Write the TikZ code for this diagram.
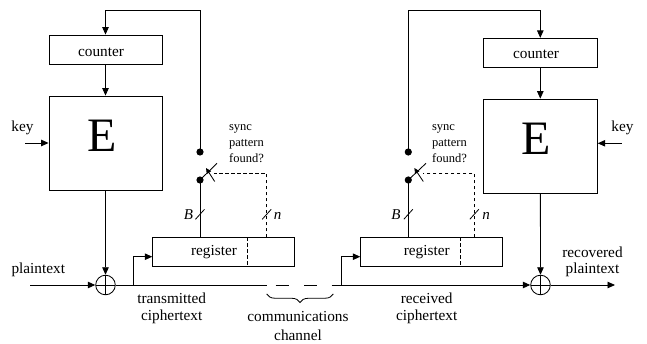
\documentclass[tikz,border=0pt]{standalone}
\usepackage{fontspec}
\setmainfont{Liberation Serif}
\usetikzlibrary{arrows.meta,decorations.pathreplacing,calc}
\begin{document}
\begin{tikzpicture}[x=1pt,y=-1pt,line width=0.85pt,
  >={Triangle[length=7.5pt,width=6.5pt]},
  box/.style={draw,inner sep=0pt},
  lbl/.style={inner sep=0pt,anchor=base,font=\fontsize{15.3}{18}\selectfont},
  big/.style={inner sep=0pt,anchor=base,font=\fontsize{48}{48}\selectfont},
  small/.style={inner sep=0pt,anchor=base west,font=\fontsize{12.5}{15}\selectfont},
  var/.style={inner sep=0pt,anchor=base,font=\fontsize{15}{18}\selectfont\itshape},
  dot/.style={circle,fill,inner sep=0pt,minimum size=7.2pt},
  xor/.style={circle,draw,inner sep=0pt,minimum size=19.6pt,
    path picture={\draw (path picture bounding box.north) -- (path picture bounding box.south)
      (path picture bounding box.west) -- (path picture bounding box.east);}},
  ctl/.style={dash pattern=on 3.5pt off 2.5pt},
  swarrow/.style={-{Triangle[length=5.5pt,width=5pt]}},
  busmark/.style={line width=0.8pt}
]
\useasboundingbox (0,0) rectangle (647,344);

% ---------------- transmitter ----------------
\node[box,minimum width=113pt,minimum height=29pt] (ctrL) at (105.5,49.5) {};
\node[lbl] (ctrLt) at (101,56.5) {counter};
\node[box,minimum width=113pt,minimum height=94pt] (EL) at (105.5,143) {};
\node[big] (ELt) at (102,152) {E};
\node[xor] (xL) at (105.5,285) {};
\node[box,minimum width=142pt,minimum height=28.3pt] (regL) at (223.7,251.85) {};
\node[lbl] (regLt) at (214,255.5) {register};
\coordinate (dvL) at (247.3,0);
\draw[ctl] (regL.north -| dvL) -- (regL.south -| dvL);

\node[dot] (sL1) at (200,152) {};
\node[dot] (sL2) at (200,180) {};
\coordinate (lvL) at (217,163.3);
\draw (sL2.center) -- (lvL);
\coordinate (caL1) at (214.7,181.5);
\coordinate (caL2) at (206,168);
\draw[swarrow] (caL1) -- (caL2);
\coordinate (nL) at (266.7,0);
\coordinate (cdL) at (213.7,173.3);
\draw[ctl] (regL.north -| nL) |- (cdL);
\draw (regL.north -| sL2) -- (sL2.center);
\draw[busmark] (195.5,219.3) -- (204.5,209.3);
\draw[busmark] (262.2,219.3) -- (271.2,209.3);
\node[var] (BL) at (188.5,219.3) {B};
\node[var] (nLt) at (277.5,219.3) {n};

\coordinate (topL) at (0,10);
\draw[->] (sL1.center) -- (sL1 |- topL) -| (ctrL.north);
\draw[->] (ctrL) -- (EL);
\draw[->] (EL) -- (xL);
\coordinate (keyL) at (25,143);
\draw[->] (keyL) -- (keyL -| EL.west);
\coordinate (ptL) at (30,285);
\draw[->] (ptL) -- (xL);
\coordinate (chA) at (266.7,285);
\draw (xL) -- (chA);
\coordinate (rsL) at (133.3,285);
\draw[->] (rsL) |- ($(regL.west)+(0,4.85)$);

\node[lbl] (keyLt) at (22.5,132) {key};
\node[lbl] (ptLt) at (38.3,273.5) {plaintext};
\node[lbl] (txL1) at (171.7,303.3) {transmitted};
\node[lbl] (txL2) at (171.7,320) {ciphertext};
\node[small] (syL1) at (228.7,130.5) {sync};
\node[small] (syL2) at (228.7,146.7) {pattern};
\node[small] (syL3) at (228.7,162.7) {found?};

% ---------------- channel ----------------
\coordinate (chB) at (331.7,285);
\draw (275.7,285) -- (289,285);
\draw (304,285) -- (317,285);
\draw[line width=0.8pt,decorate,decoration={brace,mirror,amplitude=8.5pt}] (266.7,294) -- (333.3,294);
\node[lbl] (cm1) at (298,321.7) {communications};
\node[lbl] (cm2) at (298,340) {channel};

% ---------------- receiver ----------------
\node[box,minimum width=114pt,minimum height=29pt] (ctrR) at (540.3,52.8) {};
\node[lbl] (ctrRt) at (536,58.8) {counter};
\node[box,minimum width=114pt,minimum height=94.3pt] (ER) at (540.3,146.2) {};
\node[big] (ERt) at (536,155) {E};
\node[xor] (xR) at (540.5,285) {};
\node[box,minimum width=142pt,minimum height=28.3pt] (regR) at (431.7,251.85) {};
\node[lbl] (regRt) at (426.7,255.5) {register};
\coordinate (dvR) at (460.3,0);
\draw[ctl] (regR.north -| dvR) -- (regR.south -| dvR);

\node[dot] (sR1) at (408.3,152) {};
\node[dot] (sR2) at (408.3,180) {};
\coordinate (lvR) at (426,163.3);
\draw (sR2.center) -- (lvR);
\coordinate (caR1) at (423.3,181.5);
\coordinate (caR2) at (414.3,168);
\draw[swarrow] (caR1) -- (caR2);
\coordinate (nR) at (474.3,0);
\coordinate (cdR) at (422.7,173.3);
\draw[ctl] (regR.north -| nR) |- (cdR);
\draw (regR.north -| sR2) -- (sR2.center);
\draw[busmark] (403.8,219.3) -- (412.8,209.3);
\draw[busmark] (469.8,219.3) -- (478.8,209.3);
\node[var] (BR) at (396,219.3) {B};
\node[var] (nRt) at (486,219.3) {n};

\coordinate (topR) at (0,10);
\draw[->] (sR1.center) -- (sR1 |- topR) -| (ctrR.north);
\draw[->] (ctrR) -- (ER);
\draw[->] (ER) -- (xR);
\coordinate (keyR) at (621.7,143.3);
\draw[->] (keyR) -- (keyR -| ER.east);
\draw[->] (chB) -- (xR);
\coordinate (rsR) at (341.7,285);
\draw[->] (rsR) |- ($(regR.west)+(0,4.85)$);
\coordinate (outR) at (615,285);
\draw[->] (xR) -- (outR);

\node[lbl] (keyRt) at (622.5,132) {key};
\node[lbl] (rv1) at (592.5,257.3) {recovered};
\node[lbl] (rv2) at (592.5,273.5) {plaintext};
\node[lbl] (rx1) at (426.7,303.3) {received};
\node[lbl] (rx2) at (426.7,320) {ciphertext};
\node[small] (syR1) at (431.7,130.5) {sync};
\node[small] (syR2) at (431.7,146.7) {pattern};
\node[small] (syR3) at (431.7,162.7) {found?};
\end{tikzpicture}
\end{document}
